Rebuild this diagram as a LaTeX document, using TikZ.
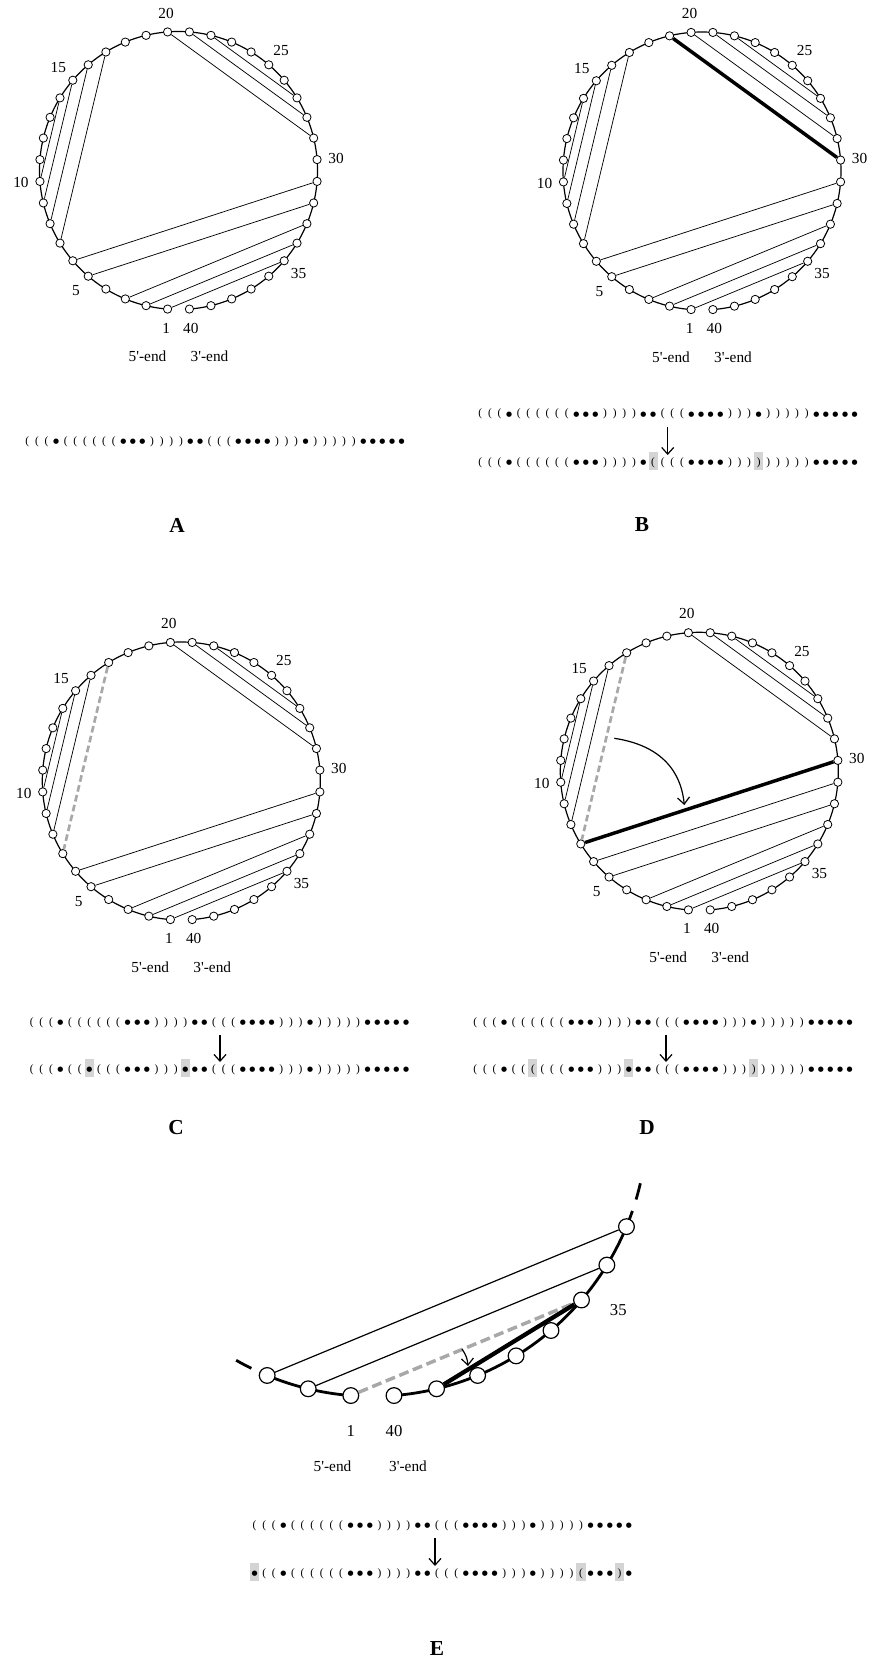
\documentclass[tikz,border=0pt]{standalone}
\usepackage{fontspec}
\setmainfont{Liberation Serif}
\newfontfamily\dotfont{DejaVu Sans}
\usetikzlibrary{calc,arrows.meta}
\definecolor{hlgray}{gray}{0.83}
\definecolor{pairgray}{gray}{0.66}

% one cell of a dot-bracket string
\newcommand\chcell[1]{\makebox[7.2pt]{\rule[-3.6pt]{0pt}{13.4pt}#1}}
\newcommand\hlcell[1]{{\setlength{\fboxsep}{0pt}\colorbox{hlgray}{\makebox[6.8pt]{\rule[-3.6pt]{0pt}{13.4pt}#1}}}}
\newcommand\dotglyph{\raisebox{0.25pt}{\dotfont\fontsize{5.2}{5.2}\selectfont ●}}
\newcommand\glypho{\chcell{(}}
\newcommand\glyphc{\chcell{)}}
\newcommand\glyphd{\chcell{\dotglyph}}
\newcommand\glyphO{\hlcell{(}}
\newcommand\glyphC{\hlcell{)}}
\newcommand\glyphD{\hlcell{\dotglyph}}

% o = (, c = ), d = unpaired; capitals are shaded
\def\strOrig{o,o,o,d,o,o,o,o,o,o,d,d,d,c,c,c,c,d,d,o,o,o,d,d,d,d,c,c,c,d,c,c,c,c,c,d,d,d,d,d}
\def\strB{o,o,o,d,o,o,o,o,o,o,d,d,d,c,c,c,c,d,O,o,o,o,d,d,d,d,c,c,c,C,c,c,c,c,c,d,d,d,d,d}
\def\strC{o,o,o,d,o,o,D,o,o,o,d,d,d,c,c,c,D,d,d,o,o,o,d,d,d,d,c,c,c,d,c,c,c,c,c,d,d,d,d,d}
\def\strD{o,o,o,d,o,o,O,o,o,o,d,d,d,c,c,c,D,d,d,o,o,o,d,d,d,d,c,c,c,C,c,c,c,c,c,d,d,d,d,d}
\def\strE{D,o,o,d,o,o,o,o,o,o,d,d,d,c,c,c,c,d,d,o,o,o,d,d,d,d,c,c,c,d,c,c,c,c,O,d,d,d,C,d}

% #1 name, #2 x of first cell, #3 y, #4 list macro
\newcommand\dotbracket[4]{%
  \foreach \chr [count=\i] in #4 {%
    \node[strchar] (#1\i) at ({#2+9.6*(\i-1)},#3) {\csname glyph\chr\endcsname};
  }}

% circular plot of 40 bases: #1 prefix, #2 centre coordinate name, #3 radius
\newcommand\rnaring[3]{%
  \draw[backbone] ($(#2)+(-265.5:#3)$) arc[start angle=-265.5,end angle=85.5,radius=#3];
  \foreach \k in {1,...,40}{\node[base] (#1\k) at ($(#2)+({9*\k-274.5}:#3)$) {};}
  \foreach \k in {1,5,10,15,20,25,30,35,40}{\node[numlab] (#1n\k) at ($(#2)+({9*\k-274.5}:{#3+19})$) {\k};}
  \node[numlab] (#1five) at ($(#2)+(-31,186)$) {5\textquotesingle-end};
  \node[numlab] (#1three) at ($(#2)+(31,186)$) {3\textquotesingle-end};
}
\newcommand\pairlines[2]{\foreach \a/\b in {#2}{\draw[chord] (#1\a) -- (#1\b);}}

\begin{document}
\begin{tikzpicture}[x=0.75pt,y=-0.75pt,
  backbone/.style={line width=0.9pt},
  base/.style={circle,draw,fill=white,line width=0.6pt,inner sep=0pt,minimum size=6.2pt},
  numlab/.style={font=\fontsize{11.5}{12}\selectfont,inner sep=0pt},
  chord/.style={line width=0.55pt},
  newpair/.style={line width=2.6pt},
  lostpair/.style={pairgray,line width=2pt,dash pattern=on 5pt off 2.6pt},
  strchar/.style={inner sep=0pt,outer sep=0pt,font=\fontsize{8.5}{8.5}\selectfont},
  convert/.style={line width=0.9pt,-{Straight Barb[length=5pt,width=9pt]}},
  panel/.style={font=\bfseries\fontsize{16}{16}\selectfont,inner sep=0pt},
  Ebase/.style={circle,draw,fill=white,line width=0.9pt,inner sep=0pt,minimum size=11.8pt},
  Ebone/.style={line width=2.1pt},
  Echord/.style={line width=0.9pt},
  Enew/.style={line width=3.2pt},
  Elost/.style={pairgray,line width=2.6pt,dash pattern=on 7.5pt off 3.5pt},
  Elab/.style={font=\fontsize{12.5}{13}\selectfont,inner sep=0pt},
  ]
\useasboundingbox (0,0) rectangle (873,1663);

% ---------- A: native structure
\coordinate (Acen) at (178.5,170.5);
\rnaring{A}{Acen}{139}
\pairlines{A}{1/35,2/34,3/33,5/32,6/31,7/17,8/16,9/15,10/14,20/29,21/28,22/27}
\dotbracket{As}{27.3}{440}{\strOrig}
\node[panel] (Alab) at (177,525) {A};

% ---------- B: helix extension 19-30
\coordinate (Bcen) at (702,171);
\rnaring{B}{Bcen}{139}
\pairlines{B}{1/35,2/34,3/33,5/32,6/31,7/17,8/16,9/15,10/14,20/29,21/28,22/27}
\draw[newpair] (B19) -- (B30);
\dotbracket{Bt}{480.3}{412.7}{\strOrig}
\dotbracket{Bb}{480.3}{461}{\strB}
\coordinate (Ba1) at (667.7,427);
\coordinate (Ba2) at (667.7,455);
\draw[convert] (Ba1) -- (Ba2);
\node[panel] (Blab) at (642,525) {B};

% ---------- C: pair 7-17 opened
\coordinate (Ccen) at (181.3,781);
\rnaring{C}{Ccen}{139}
\pairlines{C}{1/35,2/34,3/33,5/32,6/31,8/16,9/15,10/14,20/29,21/28,22/27}
\draw[lostpair] (C17) -- (C7);
\dotbracket{Ct}{31.7}{1021}{\strOrig}
\dotbracket{Cb}{31.7}{1068}{\strC}
\coordinate (Ca1) at (220,1035);
\coordinate (Ca2) at (220,1062);
\draw[convert] (Ca1) -- (Ca2);
\node[panel] (Clab) at (176,1128) {C};

% ---------- D: 7-17 replaced by 7-30
\coordinate (Dcen) at (699.3,771.3);
\rnaring{D}{Dcen}{139}
\pairlines{D}{1/35,2/34,3/33,5/32,6/31,8/16,9/15,10/14,20/29,21/28,22/27}
\draw[lostpair] (D17) -- (D7);
\draw[newpair] (D7) -- (D30);
\coordinate (Dm1) at (614.3,738.3);
\coordinate (Dm2) at (684.3,805);
\draw[convert] (Dm1) .. controls ($(Dm1)+(40,6)$) and ($(Dm2)+(-4,-40)$) .. (Dm2);
\dotbracket{Dt}{475.3}{1021}{\strOrig}
\dotbracket{Db}{475.3}{1068}{\strD}
\coordinate (Da1) at (666,1035);
\coordinate (Da2) at (666,1062);
\draw[convert] (Da1) -- (Da2);
\node[panel] (Dlab) at (647,1128) {D};

% ---------- E: enlarged ends, 1-35 replaced by 35-39
\coordinate (Ecen) at (372.4,1121.4);
\draw[Ebone] ($(Ecen)+(-265.5:275)$) arc[start angle=-265.5,end angle=-246,radius=275];
\draw[Ebone] ($(Ecen)+(-243.9:275)$) arc[start angle=-243.9,end angle=-240.3,radius=275];
\draw[Ebone] ($(Ecen)+(85.5:275)$) arc[start angle=85.5,end angle=19,radius=275];
\draw[Ebone] ($(Ecen)+(16.5:275)$) arc[start angle=16.5,end angle=13,radius=275];
\foreach \k in {1,2,3,33,34,35,36,37,38,39,40}{\node[Ebase] (E\k) at ($(Ecen)+({9*\k-274.5}:275)$) {};}
\draw[Echord] (E3) -- (E33);
\draw[Echord] (E2) -- (E34);
\draw[Elost] (E1) -- (E35);
\draw[Enew] (E39) -- (E35);
\coordinate (Em1) at (462,1349);
\coordinate (Em2) at (468,1366);
\draw[convert] (Em1) to[bend left=15] (Em2);
\node[Elab] (En1) at (350.7,1431) {1};
\node[Elab] (En40) at (394,1431) {40};
\node[Elab] (En35) at (618.3,1310) {35};
\node[numlab] (Efive) at (332.5,1466) {5\textquotesingle-end};
\node[numlab] (Ethree) at (408,1466) {3\textquotesingle-end};
\dotbracket{Et}{254.6}{1524}{\strOrig}
\dotbracket{Eb}{254.6}{1572}{\strE}
\coordinate (Ea1) at (435,1538);
\coordinate (Ea2) at (435,1566);
\draw[convert] (Ea1) -- (Ea2);
\node[panel] (Elab) at (437,1648) {E};
\end{tikzpicture}
\end{document}
